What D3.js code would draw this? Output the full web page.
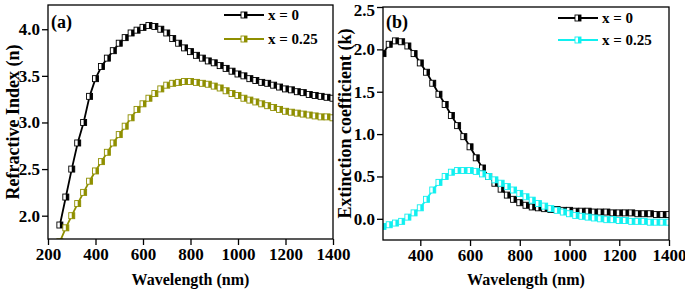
<!DOCTYPE html>
<html lang="en">
<head>
    <meta charset="UTF-8">
    <title>Refractive index and extinction coefficient</title>
    <style>
        body { margin: 0; background: #fff; }
        text { font-family: "Liberation Serif", "Times New Roman", serif; font-weight: bold; fill: #000; }
    </style>
    <script type="text/javascript" src="https://d3js.org/d3.v7.min.js"></script>
</head>
<body>
    <script type="text/javascript">

       // wavelength grid (nm) shared by all curves
       var wavelength = [250, 275, 300, 325, 350, 375, 400, 425, 450, 475, 500, 525, 550, 575, 600, 625, 650, 675,
                         700, 725, 750, 775, 800, 825, 850, 875, 900, 925, 950, 975, 1000, 1025, 1050, 1075, 1100,
                         1125, 1150, 1175, 1200, 1225, 1250, 1275, 1300, 1325, 1350, 1375, 1400];

       // refractive index n
       var nX0 = [1.90, 2.20, 2.50, 2.78, 3.00, 3.28, 3.47, 3.60, 3.69, 3.77, 3.85, 3.91, 3.96, 3.99, 4.02, 4.04, 4.03, 4.00,
                  3.96, 3.90, 3.85, 3.80, 3.76, 3.72, 3.69, 3.66, 3.64, 3.61, 3.58, 3.55, 3.52, 3.50, 3.47, 3.45, 3.43,
                  3.42, 3.40, 3.38, 3.36, 3.35, 3.33, 3.32, 3.30, 3.29, 3.28, 3.27, 3.26];
       var nX25 = [1.72, 1.87, 2.00, 2.13, 2.25, 2.37, 2.48, 2.58, 2.68, 2.78, 2.87, 2.96, 3.05, 3.14, 3.20, 3.26, 3.31, 3.36,
                   3.40, 3.42, 3.43, 3.44, 3.44, 3.43, 3.42, 3.41, 3.39, 3.37, 3.34, 3.31, 3.29, 3.26, 3.24, 3.22, 3.20,
                   3.18, 3.16, 3.14, 3.12, 3.11, 3.10, 3.09, 3.08, 3.07, 3.06, 3.06, 3.05];

       // extinction coefficient k
       var kX0 = [1.95, 2.06, 2.10, 2.09, 2.04, 1.95, 1.84, 1.73, 1.60, 1.47, 1.35, 1.22, 1.10, 0.97, 0.85, 0.72, 0.60, 0.50,
                  0.42, 0.35, 0.28, 0.23, 0.19, 0.16, 0.14, 0.13, 0.12, 0.11, 0.11, 0.10, 0.10, 0.09, 0.09, 0.09, 0.08,
                  0.08, 0.08, 0.07, 0.07, 0.07, 0.07, 0.06, 0.06, 0.06, 0.05, 0.05, 0.05];
       var kX25 = [-0.09, -0.07, -0.05, -0.03, 0.02, 0.07, 0.13, 0.23, 0.34, 0.43, 0.50, 0.55, 0.57, 0.57, 0.57, 0.56, 0.53, 0.50,
                   0.46, 0.42, 0.38, 0.34, 0.30, 0.26, 0.22, 0.18, 0.15, 0.12, 0.10, 0.08, 0.06, 0.04, 0.03, 0.02, 0.01,
                   0.00, -0.01, -0.01, -0.02, -0.02, -0.03, -0.03, -0.03, -0.04, -0.04, -0.04, -0.04];

       var seriesNames = ["x = 0", "x = 0.25"];
       var xTicksA = [200, 400, 600, 800, 1000, 1200, 1400];
       var yTicksA = [2.0, 2.5, 3.0, 3.5, 4.0];
       var xTicksB = [400, 600, 800, 1000, 1200, 1400];
       var yTicksB = [0.0, 0.5, 1.0, 1.5, 2.0, 2.5];

       var width = 685, height = 291, box = 6;

       var svg = d3.select("body")
                   .append("svg")
                   .attr("width", width)
                   .attr("height", height);

       function drawPanel(cfg) {
           var g = svg.append("g").attr("class", "panel");
           var x = d3.scaleLinear().domain(cfg.xDomain).range([cfg.left, cfg.right]);
           var y = d3.scaleLinear().domain(cfg.yDomain).range([cfg.bottom, cfg.top]);

           var clipId = "clip-" + cfg.name;
           svg.append("clipPath").attr("id", clipId)
              .append("rect")
              .attr("x", cfg.left).attr("y", cfg.top)
              .attr("width", cfg.right - cfg.left).attr("height", cfg.bottom - cfg.top);

           // axes
           var xAxis = d3.axisBottom(x).tickValues(cfg.xTicks).tickFormat(d3.format("d")).tickSize(6).tickPadding(3);
           var yAxis = d3.axisLeft(y).tickValues(cfg.yTicks).tickFormat(d3.format(".1f")).tickSize(6).tickPadding(2);
           var xg = g.append("g").attr("transform", "translate(0," + cfg.bottom + ")").call(xAxis);
           var yg = g.append("g").attr("transform", "translate(" + cfg.left + ",0)").call(yAxis);
           [xg, yg].forEach(function(a) {
               a.select(".domain").remove();
               a.selectAll("line").attr("stroke", "#000").attr("stroke-width", 1.3);
               a.selectAll("text").style("font-size", "17px").style("font-family", "'Liberation Serif', serif")
                .style("font-weight", "bold").attr("fill", "#000");
           });
           xg.selectAll("text").attr("dy", "0.71em");
           if (cfg.name === "b") {
               // top label sits right at the edge; nudge it so it stays visible
               yg.selectAll(".tick text").filter(function(d) { return d === 2.5; }).attr("dy", "0.5em");
           }

           var plot = g.append("g").attr("clip-path", "url(#" + clipId + ")");

           var line = d3.line()
                        .x(function(d) { return x(d[0]); })
                        .y(function(d) { return y(d[1]); });

           cfg.series.forEach(function(s) {
               var pts = wavelength.map(function(w, i) { return [w, s.values[i]]; });
               plot.append("path")
                   .attr("d", line(pts))
                   .attr("fill", "none")
                   .attr("stroke", s.color)
                   .attr("stroke-width", 1.8);

               var m = plot.selectAll(null)
                           .data(pts)
                           .enter()
                           .append("g")
                           .attr("transform", function(d) { return "translate(" + x(d[0]) + "," + y(d[1]) + ")"; });
               drawMarker(m, s.color);
           });

           // frame
           g.append("rect")
            .attr("x", cfg.left).attr("y", cfg.top)
            .attr("width", cfg.right - cfg.left).attr("height", cfg.bottom - cfg.top)
            .attr("fill", "none").attr("stroke", "#000").attr("stroke-width", 1.3);

           // legend
           cfg.series.forEach(function(s, i) {
               var ly = cfg.legendY + i * cfg.legendGap;
               g.append("line")
                .attr("x1", cfg.legendX).attr("x2", cfg.legendX + 40)
                .attr("y1", ly).attr("y2", ly)
                .attr("stroke", s.color).attr("stroke-width", 2);
               var lm = g.append("g").attr("transform", "translate(" + (cfg.legendX + 20) + "," + ly + ")");
               drawMarker(lm, s.color);
               g.append("text")
                .attr("x", cfg.legendX + 44).attr("y", ly + 5)
                .style("font-size", "15px")
                .text(seriesNames[i]);
           });

           // panel tag
           g.append("text")
            .attr("x", cfg.left + 3).attr("y", cfg.tagY)
            .style("font-size", "18px")
            .text(cfg.tag);

           // axis titles
           g.append("text")
            .attr("x", (cfg.left + cfg.right) / 2).attr("y", 285)
            .attr("text-anchor", "middle")
            .style("font-size", "16px")
            .text("Wavelength (nm)");
           g.append("text")
            .attr("transform", "translate(" + cfg.yTitleX + "," + ((cfg.top + cfg.bottom) / 2) + ") rotate(-90)")
            .attr("text-anchor", "middle")
            .style("font-size", "18px")
            .text(cfg.yTitle);
       }

       function drawMarker(sel, color) {
           sel.append("rect")
              .attr("x", -box / 2).attr("y", -box / 2)
              .attr("width", box).attr("height", box)
              .attr("fill", "#fff");
           sel.append("rect")
              .attr("x", 0).attr("y", -box / 2)
              .attr("width", box / 2).attr("height", box)
              .attr("fill", color);
           sel.append("rect")
              .attr("x", -box / 2).attr("y", -box / 2)
              .attr("width", box).attr("height", box)
              .attr("fill", "none").attr("stroke", color).attr("stroke-width", 0.9);
       }

       drawPanel({
           name: "a", tag: "(a)", tagY: 28,
           left: 48, right: 333, top: 5, bottom: 239,
           xDomain: [200, 1400], yDomain: [1.75, 4.26],
           xTicks: xTicksA, yTicks: yTicksA,
           series: [{values: nX0, color: "#000000"}, {values: nX25, color: "#8f8f00"}],
           legendX: 224, legendY: 15, legendGap: 24,
           yTitle: "Refractive Index (n)", yTitleX: 19
       });

       drawPanel({
           name: "b", tag: "(b)", tagY: 28,
           left: 383, right: 669, top: 7, bottom: 240,
           xDomain: [250, 1400], yDomain: [-0.25, 2.5],
           xTicks: xTicksB, yTicks: yTicksB,
           series: [{values: kX0, color: "#000000"}, {values: kX25, color: "#10f0f0"}],
           legendX: 558, legendY: 18, legendGap: 22,
           yTitle: "Extinction coefficient (k)", yTitleX: 351
       });

    </script>
</body>
</html>
